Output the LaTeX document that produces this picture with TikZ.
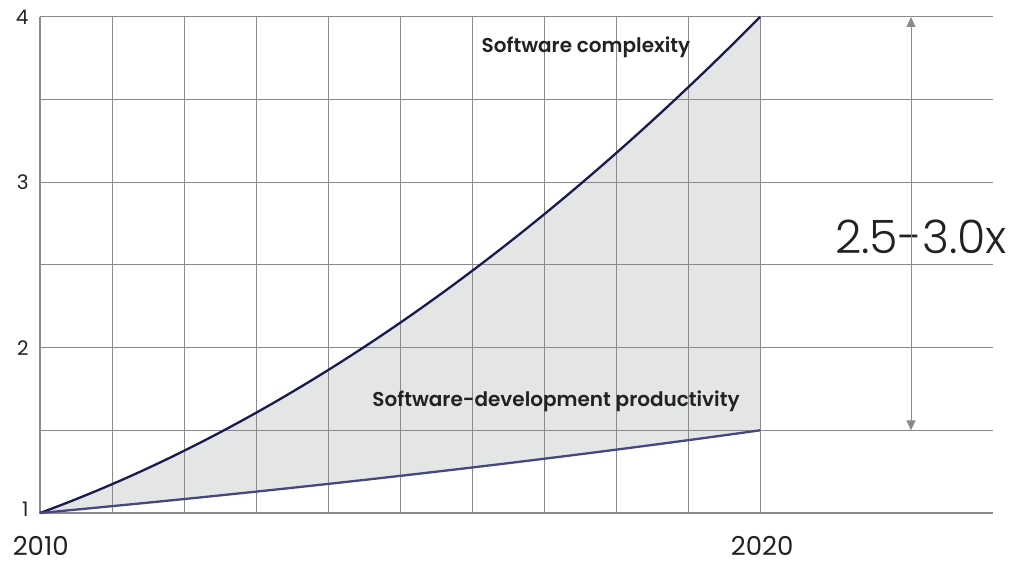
\documentclass[tikz,border=0pt]{standalone}
\usepackage{fontspec}
\setmainfont{Poppins}[BoldFont={Poppins SemiBold}]
\newfontfamily\duennfont{Poppins Light}
\usetikzlibrary{arrows.meta}
\definecolor{gridgray}{RGB}{138,138,142}
\definecolor{curvenavy}{RGB}{26,26,78}
\definecolor{curveblue}{RGB}{70,70,130}
\definecolor{areagray}{RGB}{228,230,230}
\definecolor{textdark}{RGB}{34,34,34}

\begin{document}
\begin{tikzpicture}[x=72pt, y=165.33pt,
	Gitter/.style={draw=gridgray, line width=1pt},
	Achse/.style={draw=gridgray, line width=2.2pt},
	Pfeil/.style={draw=gridgray, line width=1pt, arrows = {Triangle[length=10pt, width=9pt]-Triangle[length=10pt, width=9pt]}},
	Zahl/.style={text=textdark, anchor=east, font=\fontsize{20}{20}\selectfont},
	Jahr/.style={text=textdark, anchor=base, inner sep=0pt, font=\fontsize{26}{26}\selectfont},
	Beschriftung/.style={text=textdark, font=\fontsize{20}{20}\selectfont\bfseries}]
				\useasboundingbox (-0.5556,0.6976) rectangle (13.472,4.1028);
				\coordinate (a) at (0,1);
				\coordinate (b) at (10,4);
				\coordinate (c) at (10,1.5);
				\coordinate (e) at (13.236,1);
				% Flaeche zwischen den Kurven
				\fill[areagray] (a) .. controls (3.333,1.5333) and (6.667,2.5333) .. (b) -- (c) .. controls (6.667,1.297) and (3.333,1.135) .. (a);
				\foreach \t in {1,...,10}
					\draw[Gitter] (\t,1) -- (\t,4);
				\foreach \v in {1.5,2,...,4}
					\draw[Gitter] (0,\v) -- (13.236,\v);
				\draw[Achse] (0,4) -- (a) -- (e);
				\draw[curvenavy, line width=2.3pt] (a) .. controls (3.333,1.5333) and (6.667,2.5333) .. (b);
				\draw[curveblue, line width=2.3pt] (a) .. controls (3.333,1.135) and (6.667,1.297) .. (c);
				\node[Zahl] (z1) at (-0.11,1.02) {1};
				\node[Zahl] (z2) at (-0.11,2) {2};
				\node[Zahl] (z3) at (-0.11,3) {3};
				\node[Zahl] (z4) at (-0.11,4) {4};
				\node[Jahr] (j1) at (0.01,0.745) {2010};
				\node[Jahr] (j2) at (10.03,0.745) {2020};
				\node[Beschriftung] (komplex) at (7.583,3.819) {Software complexity};
				\node[Beschriftung] (produkt) at (7.167,1.677) {Software-development productivity};
				\node[text=textdark, font=\duennfont\fontsize{46}{46}\selectfont] (faktor) at (12.236,2.669) {2.5-3.0x};
				\coordinate (p1) at (12.097,4);
				\coordinate (p2) at (12.097,1.5);
				\draw[Pfeil] (p2) -- (p1);
			\end{tikzpicture}
\end{document}
